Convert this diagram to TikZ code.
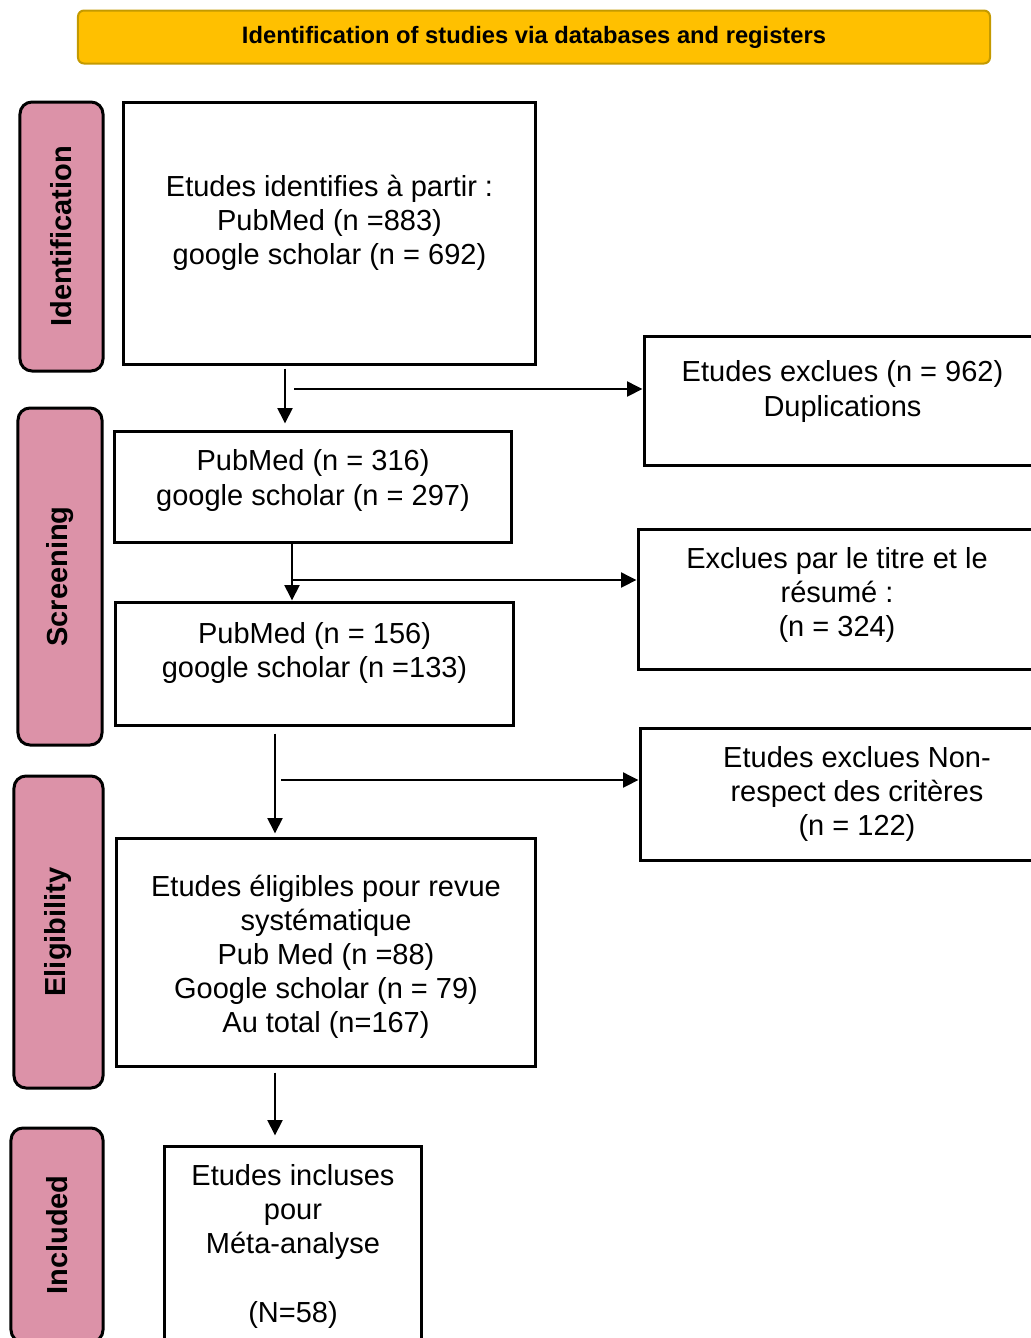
\documentclass[tikz,border=0pt]{standalone}
\usepackage{fontspec}
\setmainfont{Liberation Sans}
\usetikzlibrary{arrows.meta,positioning,calc}
\definecolor{PrismaGold}{HTML}{FFC000}
\definecolor{PrismaGoldLine}{HTML}{C49A00}
\definecolor{PrismaPink}{HTML}{DC92A8}
% invisible struts to nudge the text inside a box
\newcommand{\lowstrut}[1]{\rule[-#1]{0pt}{0pt}}
\newcommand{\highstrut}[1]{\rule{0pt}{#1}}

\begin{document}
\begin{tikzpicture}[
      x=0.2mm,y=-0.2mm,
      box/.style={draw,line width=0.6mm,align=center,inner sep=0pt,
        font=\fontsize{16.5}{19.4}\selectfont},
      phase/.style={draw,line width=0.6mm,fill=PrismaPink,rounded corners=2.4mm,
        rotate=90,font=\fontsize{16.5}{19}\selectfont\bfseries},
      banner/.style={draw=PrismaGoldLine,line width=0.4mm,fill=PrismaGold,rounded corners=1.2mm,
        font=\fontsize{13.5}{16}\selectfont\bfseries},
      arrow/.style={-{Triangle[length=3.1mm,width=3mm]},line width=0.4mm}
    ]
      \useasboundingbox (0,0) rectangle (1031,1338);
      \clip (0,0) rectangle (1031,1338);

      % title bar
      \node[banner,minimum width=182.4mm,minimum height=10.6mm] (title) at (534,37)
        {Identification of studies via databases and registers};

      % phases on the left
      \node[phase,minimum width=53.8mm,minimum height=16.6mm] (pIdent) at (61.5,236.5) {Identification};
      \node[phase,minimum width=67.4mm,minimum height=16.8mm] (pScreen) at (60,576.5) {Screening};
      \node[phase,minimum width=62.4mm,minimum height=17.8mm] (pElig) at (58.5,932) {Eligibility};
      \node[phase,minimum width=42.8mm,minimum height=18.4mm] (pIncl) at (57,1235) {Included};

      % main column
      \node[box,minimum width=82.2mm,minimum height=52.4mm] (ident) at (329.5,233)
        {Etudes identifies à partir :\\PubMed (n =883)\\google scholar (n = 692)\lowstrut{15pt}};
      \node[box,minimum width=79.2mm,minimum height=22.2mm] (screenA) at (313,486.5)
        {PubMed (n = 316)\\google scholar (n = 297)\lowstrut{10.3pt}};
      \node[box,minimum width=79.4mm,minimum height=24.6mm] (screenB) at (314.5,663.5)
        {PubMed (n = 156)\\google scholar (n =133)\lowstrut{15pt}};
      \node[box,minimum width=83.6mm,minimum height=45.6mm] (elig) at (326,952)
        {\highstrut{17.5pt}Etudes éligibles pour revue\\systématique\\Pub Med (n =88)\\Google scholar (n = 79)\\Au total (n=167)};
      \node[box,minimum width=51.2mm,minimum height=41.8mm] (incl) at (293,1250.5)
        {Etudes incluses\\pour\\Méta-analyse\\[19.4pt](N=58)\lowstrut{8pt}};

      % exclusions on the right
      \node[box,minimum width=79.4mm,minimum height=25.8mm] (exclA) at (842.5,400.5)
        {Etudes exclues (n = 962)\\Duplications\lowstrut{13.7pt}};
      \node[box,minimum width=79.6mm,minimum height=28mm] (exclB) at (837,599)
        {Exclues par le titre et le\\résumé :\\(n = 324)\lowstrut{8pt}};
      \node[box,minimum width=86.8mm,minimum height=26.4mm] (exclC) at (857,794)
        {Etudes exclues Non-\\respect des critères\\(n = 122)};

      % arrow lines
      \coordinate (xA) at (285,0);
      \coordinate (xB) at (292,0);
      \coordinate (xC) at (275,0);
      \coordinate (bA) at (294,389);
      \coordinate (bB) at (292,580);
      \coordinate (bC) at (281,780);

      \draw[arrow,shorten <=0.6mm,shorten >=1.2mm] (ident.south -| xA) -- (screenA.north -| xA);
      \draw[arrow] (bA) -- (bA -| exclA.west);
      \draw[arrow] (screenA.south -| xB) -- (screenB.north -| xB);
      \draw[arrow] (bB) -- (bB -| exclB.west);
      \draw[arrow,shorten <=1.4mm,shorten >=0.6mm] (screenB.south -| xC) -- (elig.north -| xC);
      \draw[arrow] (bC) -- (bC -| exclC.west);
      \draw[arrow,shorten <=1mm,shorten >=1.8mm] (elig.south -| xC) -- (incl.north -| xC);
\end{tikzpicture}
\end{document}
